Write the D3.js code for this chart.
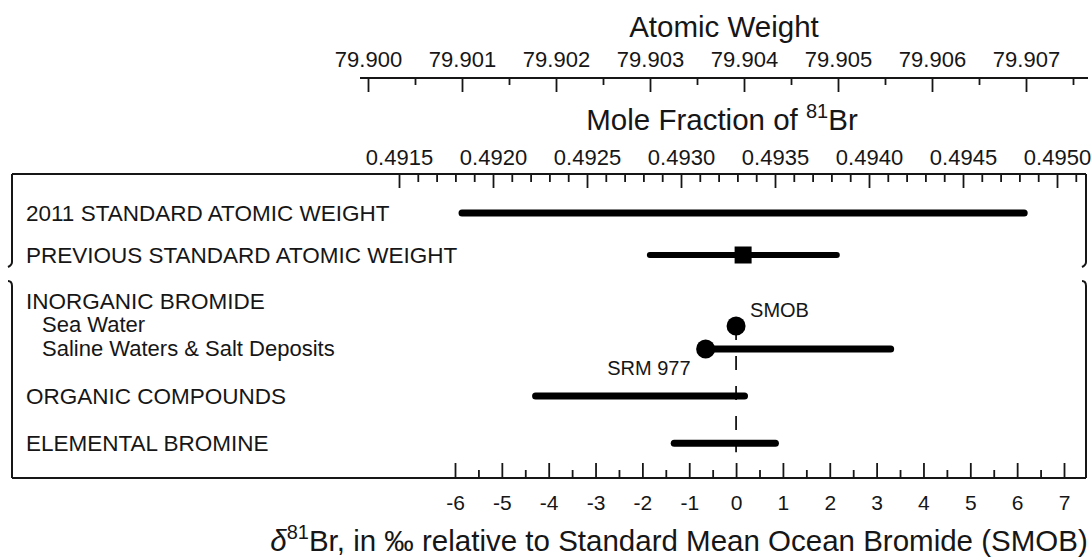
<!DOCTYPE html>
<html>
<head>
<meta charset="UTF-8">
<title>Bromine isotopes</title>
<script src="https://d3js.org/d3.v7.min.js"></script>
<style>
  body { margin: 0; background: #fff; }
  svg { display: block; font-family: "Liberation Sans", Arial, sans-serif; }
</style>
</head>
<body>
<svg id="svg" width="1092" height="560"></svg>
<script>

// rows, top to bottom
var rowNames = ["2011 STANDARD ATOMIC WEIGHT", "PREVIOUS STANDARD ATOMIC WEIGHT", "INORGANIC BROMIDE",
                "Sea Water", "Saline Waters & Salt Deposits", "ORGANIC COMPOUNDS", "ELEMENTAL BROMINE"];
var subRows = ["Sea Water", "Saline Waters & Salt Deposits"];

// delta 81Br ranges (per mil vs SMOB)
var rangeLow  = [-5.85, -1.84, null, null, -0.65, -4.28, -1.32];
var rangeHigh = [ 6.15,  2.15, null, null,  3.30,  0.18,  0.84];

// single values
var pointValues = [null, 0.15, null, 0, -0.65, null, null];
var pointShapes = [null, "square", null, "circle", "circle", null, null];
var pointNames  = [null, null, null, "SMOB", "SRM 977", null, null];

// ticks
var deltaTicks = [-6, -5, -4, -3, -2, -1, 0, 1, 2, 3, 4, 5, 6, 7];
var deltaMinor = [-5.5, -4.5, -3.5, -2.5, -1.5, -0.5, 0.5, 1.5, 2.5, 3.5, 4.5, 5.5, 6.5];
var moleTicks = [0.4915, 0.4920, 0.4925, 0.4930, 0.4935, 0.4940, 0.4945, 0.4950];
var moleMinor = [0.4916, 0.4917, 0.4918, 0.4919, 0.4921, 0.4922, 0.4923, 0.4924,
                 0.4926, 0.4927, 0.4928, 0.4929, 0.4931, 0.4932, 0.4933, 0.4934,
                 0.4936, 0.4937, 0.4938, 0.4939, 0.4941, 0.4942, 0.4943, 0.4944,
                 0.4946, 0.4947, 0.4948, 0.4949, 0.4951];
var weightTicks = [79.900, 79.901, 79.902, 79.903, 79.904, 79.905, 79.906, 79.907];
var weightMinor = [79.9005, 79.9015, 79.9025, 79.9035, 79.9045, 79.9055, 79.9065, 79.9075];

// layout
var ink = "#161616";
var boxLeft = 12, boxRight = 1086, boxTop = 174, boxBottom = 478;
var markSlot  = [0, 1, 2.1, 2.69, 3.24, 4.36, 5.48];
var labelSlot = [0, 1, 2.1, 2.67, 3.24, 4.36, 5.48];

var svg = d3.select("svg");

var x = d3.scaleLinear().domain([-6, 7]).range([455, 1064]);
var xMole = d3.scaleLinear().domain([0.4915, 0.4950]).range([399, 1057]);
var xWeight = d3.scaleLinear().domain([79.900, 79.907]).range([368, 1026]);
var y = d3.scaleLinear().domain([0, 1]).range([213, 255]);

function styleAxis(g, size) {
  g.select(".domain").remove();
  g.selectAll("line").attr("stroke", ink).attr("stroke-width", 1.8);
  g.selectAll("text").attr("fill", ink).style("font-size", size + "px")
    .style("font-family", "Liberation Sans, Arial, sans-serif");
}

// ---- atomic weight axis (top)
svg.append("line")
  .attr("x1", 360).attr("x2", 1088)
  .attr("y1", 78).attr("y2", 78)
  .attr("stroke", ink).attr("stroke-width", 2);

svg.append("g")
  .attr("transform", "translate(0,78)")
  .call(d3.axisTop(xWeight).tickValues(weightTicks).tickSizeInner(-14).tickSizeOuter(0)
        .tickPadding(11).tickFormat(d3.format(".3f")))
  .call(styleAxis, 22);

svg.append("g")
  .attr("transform", "translate(0,78)")
  .call(d3.axisTop(xWeight).tickValues(weightMinor).tickSizeInner(-7).tickSizeOuter(0).tickFormat(""))
  .call(styleAxis, 22);

svg.append("text")
  .attr("x", 724).attr("y", 37)
  .attr("text-anchor", "middle")
  .attr("fill", ink)
  .style("font-size", "29.5px")
  .text("Atomic Weight");

// ---- mole fraction axis (box top)
svg.append("g")
  .attr("transform", "translate(0," + boxTop + ")")
  .call(d3.axisTop(xMole).tickValues(moleTicks).tickSizeInner(-14).tickSizeOuter(0)
        .tickPadding(9).tickFormat(d3.format(".4f")))
  .call(styleAxis, 22);

svg.append("g")
  .attr("transform", "translate(0," + boxTop + ")")
  .call(d3.axisTop(xMole).tickValues(moleMinor).tickSizeInner(-8).tickSizeOuter(0).tickFormat(""))
  .call(styleAxis, 22);

var moleTitle = svg.append("text")
  .attr("x", 722).attr("y", 130)
  .attr("text-anchor", "middle")
  .attr("fill", ink)
  .style("font-size", "29.5px");
moleTitle.append("tspan").text("Mole Fraction of ");
moleTitle.append("tspan").attr("dy", -12).style("font-size", "20px").text("81");
moleTitle.append("tspan").attr("dy", 12).text("Br");

// ---- delta axis (box bottom)
svg.append("g")
  .attr("transform", "translate(0," + boxBottom + ")")
  .call(d3.axisBottom(x).tickValues(deltaTicks).tickSizeInner(-15).tickSizeOuter(0)
        .tickPadding(17).tickFormat(function (d) { return String(d); }))
  .call(styleAxis, 21);

svg.append("g")
  .attr("transform", "translate(0," + boxBottom + ")")
  .call(d3.axisBottom(x).tickValues(deltaMinor).tickSizeInner(-8).tickSizeOuter(0).tickFormat(""))
  .call(styleAxis, 21);

var xTitle = svg.append("text")
  .attr("x", 679).attr("y", 551)
  .attr("text-anchor", "middle")
  .attr("fill", ink)
  .style("font-size", "29.5px");
xTitle.append("tspan").style("font-style", "italic").text("\u03b4");
xTitle.append("tspan").attr("dy", -12).style("font-size", "20px").text("81");
xTitle.append("tspan").attr("dy", 12).text("Br, in \u2030 relative to Standard Mean Ocean Bromide (SMOB)");

// ---- box with breaks on the sides
svg.append("line")
  .attr("x1", boxLeft).attr("x2", boxRight).attr("y1", boxTop).attr("y2", boxTop)
  .attr("stroke", ink).attr("stroke-width", 2);
svg.append("line")
  .attr("x1", boxLeft).attr("x2", boxRight).attr("y1", boxBottom).attr("y2", boxBottom)
  .attr("stroke", ink).attr("stroke-width", 2);

[boxLeft, boxRight].forEach(function (bx) {
  svg.append("path")
    .attr("d", "M" + bx + "," + boxTop + " L" + bx + ",262 Q" + bx + ",265 " + (bx - 4) + ",267")
    .attr("fill", "none").attr("stroke", ink).attr("stroke-width", 2);
  svg.append("path")
    .attr("d", "M" + (bx - 4) + ",281 Q" + bx + ",281 " + bx + ",286 L" + bx + "," + boxBottom)
    .attr("fill", "none").attr("stroke", ink).attr("stroke-width", 2);
});

// ---- row labels
svg.selectAll("text.row")
  .data(rowNames)
  .enter().append("text")
  .attr("class", "row")
  .attr("x", function (d) { return subRows.indexOf(d) >= 0 ? 42 : 26; })
  .attr("y", function (d, i) { return y(labelSlot[i]) + (subRows.indexOf(d) >= 0 ? 7 : 8); })
  .attr("fill", ink)
  .style("font-size", function (d) { return subRows.indexOf(d) >= 0 ? "22px" : "22.5px"; })
  .text(function (d) { return d; });

// ---- dashed reference at SMOB
svg.append("line")
  .attr("x1", x(0)).attr("x2", x(0))
  .attr("y1", y(markSlot[3])).attr("y2", y(markSlot[6]) + 9)
  .attr("stroke", ink).attr("stroke-width", 1.8)
  .attr("stroke-dasharray", "14,16");

// ---- range bars
var rows = rowNames.map(function (d, i) {
  return { name: d, lo: rangeLow[i], hi: rangeHigh[i], v: pointValues[i], shape: pointShapes[i], tag: pointNames[i], slot: markSlot[i] };
});

svg.selectAll("line.range")
  .data(rows.filter(function (d) { return d.lo !== null; }))
  .enter().append("line")
  .attr("class", "range")
  .attr("x1", function (d) { return x(d.lo); })
  .attr("x2", function (d) { return x(d.hi); })
  .attr("y1", function (d) { return y(d.slot); })
  .attr("y2", function (d) { return y(d.slot); })
  .attr("stroke", "#000")
  .attr("stroke-width", function (d, i) { return i == 1 ? 6 : 7; })
  .attr("stroke-linecap", "round");

// ---- points
var pts = rows.filter(function (d) { return d.v !== null; });

svg.selectAll("rect.pt")
  .data(pts.filter(function (d) { return d.shape == "square"; }))
  .enter().append("rect")
  .attr("class", "pt")
  .attr("x", function (d) { return x(d.v) - 8.5; })
  .attr("y", function (d) { return y(d.slot) - 8.5; })
  .attr("width", 17).attr("height", 17)
  .attr("fill", "#000");

svg.selectAll("circle.pt")
  .data(pts.filter(function (d) { return d.shape == "circle"; }))
  .enter().append("circle")
  .attr("class", "pt")
  .attr("cx", function (d) { return x(d.v); })
  .attr("cy", function (d) { return y(d.slot); })
  .attr("r", 9.5)
  .attr("fill", "#000");

svg.selectAll("text.tag")
  .data(pts.filter(function (d) { return d.tag; }))
  .enter().append("text")
  .attr("class", "tag")
  .attr("x", function (d) { return d.tag == "SMOB" ? x(d.v) + 14 : x(d.v) - 15; })
  .attr("y", function (d) { return d.tag == "SMOB" ? y(d.slot) - 9 : y(d.slot) + 26; })
  .attr("text-anchor", function (d) { return d.tag == "SMOB" ? "start" : "end"; })
  .attr("fill", ink)
  .style("font-size", "20px")
  .text(function (d) { return d.tag; });

</script>
</body>
</html>
